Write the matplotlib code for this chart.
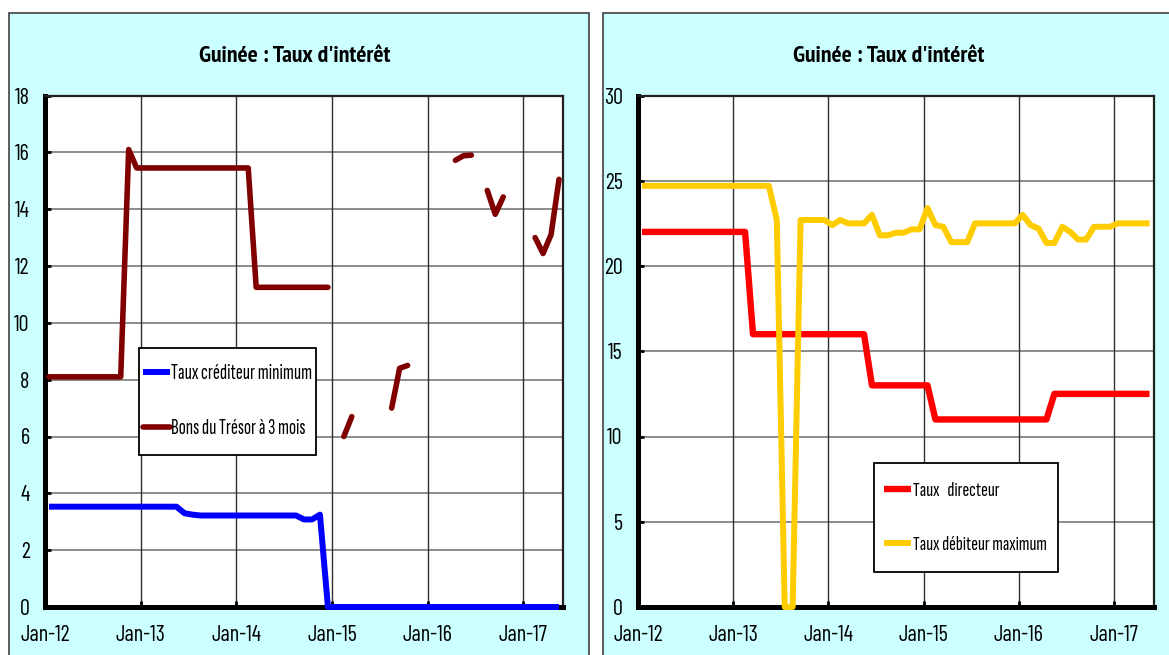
import numpy as np
import matplotlib
matplotlib.use("Agg")
import matplotlib.pyplot as plt
from matplotlib import font_manager
from matplotlib.font_manager import FontProperties
from matplotlib.patches import Rectangle
from matplotlib.textpath import TextPath

plt.rcParams['font.family'] = ['Barlow Condensed', 'Liberation Sans', 'DejaVu Sans']
CANDIDATES = ['Sofia Sans Extra Condensed', 'Fira Sans Extra Condensed',
              'Barlow Condensed', 'Archivo Narrow', 'PT Sans Narrow',
              'Roboto Condensed']

# mois de Jan-12 a Mai-17, points places en milieu de mois
n_mois = 65
tick_pos = [0, 12, 24, 36, 48, 60]
tick_labels = ["Jan-12", "Jan-13", "Jan-14", "Jan-15", "Jan-16", "Jan-17"]

nan = np.nan
# graphique de gauche
taux_crediteur_min = ([3.53] * 17 + [3.3, 3.25] + [3.22] * 13 + [3.08, 3.08]
                      + [3.25] + [0.0] * 30)
bons_tresor_3m = ([8.1] * 10 + [16.1] + [15.45] * 15 + [11.25] * 10 + [nan]
                  + [6.0, 6.7] + [nan] * 4 + [7.0, 8.4, 8.5] + [nan] * 5
                  + [15.72, 15.88, 15.9] + [nan] + [14.66, 13.82, 14.43]
                  + [nan] * 3 + [13.0, 12.44, 13.1, 15.05])

# graphique de droite
taux_directeur = [22.0] * 14 + [16.0] * 15 + [13.0] * 8 + [11.0] * 15 + [12.5] * 13
taux_debiteur_max = ([24.7] * 17 + [22.7] + [0.0, 0.0] + [22.7] * 4 + [22.4]
                     + [22.7] + [22.5] * 3 + [23.0] + [21.8] * 2 + [21.95] * 2
                     + [22.15] * 2 + [23.4] + [22.4] + [22.3] + [21.4] * 3
                     + [22.5] * 6 + [23.0] + [22.4] + [22.2] + [21.35] * 2
                     + [22.3] + [22.0] + [21.55] * 2 + [22.3] * 3 + [22.5] * 5)

x = np.arange(n_mois) + 0.5

W, H = 1169, 655
PX = 100 / 72
fig = plt.figure(figsize=(W / 100, H / 100), dpi=100)

bold_families = {f.name for f in font_manager.fontManager.ttflist
                 if isinstance(f.weight, int) and f.weight >= 600}


def px_box(x0, y0, x1, y1):
    """pixels (origine en haut a gauche) -> fraction de figure"""
    return [x0 / W, 1 - y1 / H, (x1 - x0) / W, (y1 - y0) / H]


def pick_font(text, width_px, cap_px, weight="normal"):
    """police etroite + taille qui donnent a peu pres la largeur et la hauteur voulues"""
    best = None
    for fam in CANDIDATES:
        if weight == "bold" and fam not in bold_families:
            continue
        prop = FontProperties(family=fam, weight=weight)
        try:
            font_manager.findfont(prop, fallback_to_default=False)
        except ValueError:
            continue
        w = TextPath((0, 0), text, size=10, prop=prop).get_extents().width
        c = TextPath((0, 0), "H", size=10, prop=prop).get_extents().height
        fs = 10 * width_px / (w * PX)
        err = abs(c * fs / 10 * PX - cap_px)
        if best is None or err < best[0]:
            best = (err, fam, fs)
    if best is None:
        return "DejaVu Sans", 12
    return best[1], best[2]


# fonds cyan des deux cadres
for x0, x1 in [(9, 589), (603, 1180)]:
    l, b, w, h = px_box(x0, 13, x1, 670)
    fig.patches.append(Rectangle((l, b), w, h, transform=fig.transFigure,
                                 facecolor="#CCFFFF", edgecolor="#404040",
                                 linewidth=1.2, zorder=-1))


def setup_axes(ax, ymax, ystep):
    ax.set_facecolor("white")
    ax.set_xlim(0, n_mois)
    ax.set_ylim(0, ymax)
    ax.set_xticks(tick_pos)
    ax.set_xticklabels(tick_labels)
    ax.set_yticks(np.arange(0, ymax + 1, ystep))
    ax.tick_params(axis="both", direction="in", length=4, width=2,
                   labelsize=16, colors="black")
    ax.tick_params(axis="x", pad=13)
    ax.tick_params(axis="y", pad=11)
    for yv in np.arange(ystep, ymax, ystep):
        ax.axhline(yv, color="#8c8c8c", linewidth=1.4, zorder=1)
    for xv in tick_pos[1:]:
        ax.axvline(xv, color="#303030", linewidth=1.0, zorder=1)
    for s in ["left", "bottom"]:
        ax.spines[s].set_linewidth(3.6)
        ax.spines[s].set_color("black")
    for s in ["top", "right"]:
        ax.spines[s].set_linewidth(1.6)
        ax.spines[s].set_color("#202020")


def legend_box(ax, box, handles, labels):
    l, b, w, h = px_box(*box)
    ax.add_patch(Rectangle((l, b), w, h, transform=fig.transFigure,
                           facecolor="white", edgecolor="black",
                           linewidth=1.3, zorder=4, clip_on=False))
    fam, fs = pick_font(max(labels, key=len), 133, 14.5)
    leg = ax.legend(handles, labels, loc="center", frameon=False,
                    bbox_to_anchor=(l + w / 2, b + h / 2),
                    bbox_transform=fig.transFigure,
                    prop={"family": fam, "size": fs},
                    handlelength=27 / (fs * PX), handletextpad=0.08,
                    labelspacing=36 / (fs * PX), borderpad=0)
    leg.set_zorder(5)


titre = "Guinée : Taux d'intérêt"
fam_titre, fs_titre = pick_font(titre, 191, 19, weight="bold")

# ---- Gauche
ax1 = fig.add_axes(px_box(45, 95.5, 563, 607))
setup_axes(ax1, 18, 2)
l1, = ax1.plot(x, taux_crediteur_min, color="#0000FF", linewidth=4.3,
               zorder=3, clip_on=False, solid_capstyle="butt")
l2, = ax1.plot(x, bons_tresor_3m, color="#800000", linewidth=4.0,
               zorder=3, solid_capstyle="round")
fig.text(295 / W, 1 - 57 / H, titre, ha="center", va="center",
         family=fam_titre, fontsize=fs_titre, fontweight="bold")
legend_box(ax1, (139.3, 347.7, 316, 455), [l1, l2],
           ["Taux créditeur minimum", "Bons du Trésor à 3 mois"])

# ---- Droite
ax2 = fig.add_axes(px_box(638, 95.5, 1153.5, 607))
setup_axes(ax2, 30, 5)
l3, = ax2.plot(x, taux_directeur, color="#FF0000", linewidth=4.6,
               zorder=3, solid_capstyle="butt")
l4, = ax2.plot(x, taux_debiteur_max, color="#FFCC00", linewidth=4.3,
               zorder=3, clip_on=False, solid_capstyle="butt")
fig.text(889 / W, 1 - 57 / H, titre, ha="center", va="center",
         family=fam_titre, fontsize=fs_titre, fontweight="bold")
legend_box(ax2, (873.6, 463.3, 1057.5, 572.3), [l3, l4],
           ["Taux   directeur", "Taux débiteur maximum"])

fig.savefig("out.png", dpi=100)
